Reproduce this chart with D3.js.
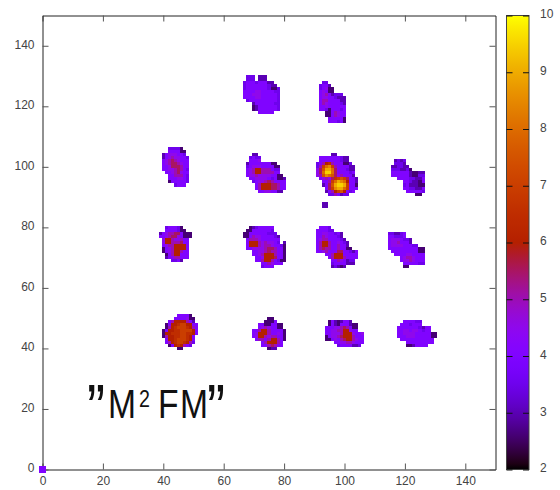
<!DOCTYPE html>
<html>
<head>
<meta charset="utf-8">
<script src="https://cdn.jsdelivr.net/npm/d3@7"></script>
<style>
html, body { margin: 0; padding: 0; background: #fff; }
svg { display: block; }
text { font-family: "Liberation Sans", Arial, sans-serif; }
</style>
</head>
<body>
<svg id="chart" width="560" height="490"></svg>
<script>
// left x and top y of every spot, then the spot itself, one letter per data cell
var spotX = [67, 92, 68, 91, 93, 116, 40, 39, 67, 91, 115, 40, 70, 94, 118, -0.5];
var spotY = [130, 128, 104, 104, 88, 102, 106, 80, 80, 80, 78, 51, 50, 49, 49, 0.5];
var spotRows = [
  [".ccc.bbb....", ".ccc.bbb....", "cdddcdddbb..", "cdddddddcbb.", "cdddddddcaac", "ddddeeddddcc", "dddeeedddddc",
   "ddddeedddddc", ".cdddddddddc", "...bddddddcc", "...abddddddc", "...abddddddc", ".....ddddd.."],
  [".cc......", "cddb.....", "cdeaa....", "dedaa....", "defdbccc.", "deeddcbbb", "dffddddbb",
   "dfeddddcb", "ddedddddd", "ddcadddcd", "..aadfedd", "..aadfedd", "...ddddda", "...dddcda"],
  ["..bb.........", ".cdcc........", ".ddde........", "bdddddddaa...", "cdeeeddddaa..", "defhhfffdcc..", "defhhffffdd..",
   "deefeeeeddaa.", ".ddeeeedcdaab", "..cdeefgfdddd", "...dfhhhggfdd", "...dfhhhggfdd", "....ddeeddbb."],
  [".....bb.......", ".dddddddcbb...", ".dddddddcbb...", "cdfhifdddaac..", "cfjlmjfddddbb.", "egknnlgdddcbb.", "egloolgddddcd.",
   "efkmlkgefdddb.", ".defegijkjgddb", "..ddfjlnmlhddb", "..bdgknoonjdda", "...dgjmnnljddd", "...bdfhjkhdcd.", "....ccfdbcc..."],
  ["bb", "bb"],
  [".bcbc......", ".cccb......", "bbccbb.....", "cccbbca....", "ddddddbaabb", "ddddddbaacc",
   "..ddddccbbd", "....ddcbbad", "....cdbbbaa", "....ddccbbd", ".....dddddc", "........aa."],
  ["..cccca..", "..ddddaa.", "bdeeeddc.", "bdefeeddc", "defgfeddd", "defggfedd", "ddegggfdd",
   "ddeefgfdc", ".ddefgedd", "..ddfffdc", "..dddeedc", "..adddddc", "....cddd."],
  ["..cdddca...", "..ddddcaa..", "bdeffggdaaa", "ddefggedaaa", ".ehhfeefdd.", ".ehhfffgdd.",
   ".deffhhhhd.", ".adefhhhhd.", ".adefhhfdd.", "..adfhhddd.", "..bddffddd.", "....ccdb..."],
  ["..abcddddd....", ".aaddddddc....", "aaddddddccc...", "aadfeeddddcb..", ".dfffedddddd..", ".dhhhfefeedc.b", ".dhhhfeffeddca",
   ".ddeeeefggfdda", "...ddeefgffdda", "...ddefhhhfdda", "....ddehhhgdda", "....ddfhhfdcaa", "......ddfeddd.", "......cddd...."],
  [".dddc.........", "ddddcc........", "ddeeddcdb.....", "ddfedddcb.....", "deffddddcb....", "dfhhfddedcb...", "dfhhfddfddb...",
   "dfgffddfddaa..", "ddefdddggddcbd", "...ddfhhhddddd", "....dfhhhfdddd", ".....ddfedbcc.", ".....cddddbbb.", ".....bcbab...."],
  ["ccbbcd......", "ddcccd......", "deeedccb....", "deefdddb....", "deeeedddcc..", "ddddddddddaa",
   ".dddddddddaa", "..ddddeedddd", "....deffeddd", "....deefeddd", ".....dddddcc", ".....aa....."],
  [".....dddda..", "....ddddeaa.", "..dfhhhhfdb.", ".adhhijjhhdd", ".afhijjjihfd", "adhhiijjjjhd",
   "ahhiiijjiihd", "afhhiijjihd.", ".dhhijjjihd.", ".dfhijjihfc.", "..adhihfdc..", ".....aa....."],
  [".....aa....", "....aaad...", "..ddaaddaa.", "..defeddaa.", "ddfhhfdddda", "dehhhfddeda",
   "dehhfeffdda", ".dffdfhhfda", "...dfhhhfd.", "...ddfgfdd.", ".....abb..."],
  [".adbabddb....", ".adbadddbaa..", "dddeefgfdaa..", "ddeeffhhedd..", "ddeeefhhhedde", "adeefghhhfddd",
   "aadedfghhfedd", "...ddeeffeddd", "....cddddbbc."],
  ["..ddddcc.....", ".dddcddd.....", "dddddddcbdd..", "ddeedeedcdd..", "ddeeeedddddaa", "dddeeedddddaa",
   ".ddddddddddd.", "...ddddddddd.", "...aabdddd..."],
  ["dd", "dd"]
];
var cellLetters = "abcdefghijklmnop";
var cellValues = [2.6, 3, 3.5, 4, 4.5, 5, 5.5, 6, 6.5, 7, 7.5, 8, 8.5, 9, 9.5, 10];
var axisTicks = [0, 20, 40, 60, 80, 100, 120, 140];
var colorTicks = [2, 3, 4, 5, 6, 7, 8, 9, 10];

var svg = d3.select("#chart");

var xScale = d3.scaleLinear().domain([0, 150]).range([42.5, 495.5]);
var yScale = d3.scaleLinear().domain([0, 150]).range([469.5, 15.5]);
var colorScale = d3.scaleLinear().domain([10, 2]).range([15.5, 469.5]);

// gnuplot default palette, rgbformulae 7,5,15
function palette(v) {
    var t = (v - 2) / 8;
    var b = Math.max(0, Math.sin(2 * Math.PI * t));
    return d3.rgb(255 * Math.sqrt(t), 255 * t * t * t, 255 * b).formatHex();
}

// spots -> flat list of cells
var cells = [];
spotRows.forEach(function(rows, s) {
    rows.forEach(function(row, r) {
        row.split("").forEach(function(ch, c) {
            if (ch != ".") {
                cells.push({
                    x: spotX[s] + c,
                    y: spotY[s] - r,
                    v: cellValues[cellLetters.indexOf(ch)]
                });
            }
        });
    });
});

var cellW = xScale(1) - xScale(0);
var cellH = yScale(0) - yScale(1);

// frame axes
function styleAxis(g) {
    g.selectAll(".domain").attr("stroke", "#222");
    g.selectAll(".tick line").attr("stroke", "#555");
    g.selectAll(".tick text").attr("fill", "#444").style("font-size", "12px");
}

svg.append("g").attr("transform", "translate(0,469.5)")
    .call(d3.axisBottom(xScale).tickValues(axisTicks).tickSizeInner(-6).tickSizeOuter(0).tickPadding(7))
    .call(styleAxis);
svg.append("g").attr("transform", "translate(0,15.5)")
    .call(d3.axisTop(xScale).tickValues(axisTicks).tickSizeInner(-6).tickSizeOuter(0).tickFormat(""))
    .call(styleAxis);
svg.append("g").attr("transform", "translate(42.5,0)")
    .call(d3.axisLeft(yScale).tickValues(axisTicks).tickSizeInner(-6).tickSizeOuter(0).tickPadding(8))
    .call(styleAxis)
    .call(function(g) { g.selectAll(".tick text").attr("dy", "0.2em"); });
svg.append("g").attr("transform", "translate(495.5,0)")
    .call(d3.axisRight(yScale).tickValues(axisTicks).tickSizeInner(-6).tickSizeOuter(0).tickFormat(""))
    .call(styleAxis);

// points
svg.append("g").selectAll("rect")
    .data(cells)
    .enter().append("rect")
    .attr("x", function(d) { return xScale(d.x) - cellW / 2; })
    .attr("y", function(d) { return yScale(d.y) - cellH / 2; })
    .attr("width", cellW)
    .attr("height", cellH)
    .attr("fill", function(d) { return palette(d.v); })
    .attr("shape-rendering", "crispEdges");

// label, squeezed a bit sideways like the original
var labelScale = 0.82;
var label = svg.append("text")
    .attr("transform", "translate(0,418) scale(" + labelScale + ",1)")
    .attr("fill", "#111")
    .style("font-size", "41px");
label.append("tspan").attr("x", 87 / labelScale).attr("y", 13).style("font-size", "66px").text("”");
label.append("tspan").attr("x", 108 / labelScale).attr("y", 0).text("M");
label.append("tspan").attr("x", 139 / labelScale).attr("y", -11).style("font-size", "24px").text("2");
label.append("tspan").attr("x", 158 / labelScale).attr("y", 0).text("F");
label.append("tspan").attr("x", 180 / labelScale).attr("y", 0).text("M");
label.append("tspan").attr("x", 207 / labelScale).attr("y", 13).style("font-size", "66px").text("”");

// colorbar
var grad = svg.append("defs").append("linearGradient")
    .attr("id", "cbgrad")
    .attr("x1", 0).attr("x2", 0).attr("y1", 1).attr("y2", 0);
d3.range(2, 10.01, 0.1).forEach(function(v) {
    grad.append("stop")
        .attr("offset", (v - 2) / 8)
        .attr("stop-color", palette(v));
});
svg.append("rect")
    .attr("x", 506.5).attr("y", 15.5)
    .attr("width", 22.5).attr("height", 454)
    .attr("fill", "url(#cbgrad)")
    .attr("stroke", "#444");

svg.append("g").attr("transform", "translate(529,0)")
    .call(d3.axisRight(colorScale).tickValues(colorTicks).tickSizeInner(-6).tickSizeOuter(0).tickPadding(11).tickFormat(d3.format("d")))
    .call(styleAxis)
    .call(function(g) {
        g.selectAll(".domain").remove();
        g.selectAll(".tick line").attr("stroke", "#111");
        g.selectAll(".tick text").attr("dy", "0.2em");
    });
svg.append("g").attr("transform", "translate(506.5,0)")
    .call(d3.axisLeft(colorScale).tickValues(colorTicks).tickSizeInner(-6).tickSizeOuter(0).tickFormat(""))
    .call(function(g) { g.selectAll(".domain").remove(); g.selectAll(".tick line").attr("stroke", "#111"); });
</script>
</body>
</html>
